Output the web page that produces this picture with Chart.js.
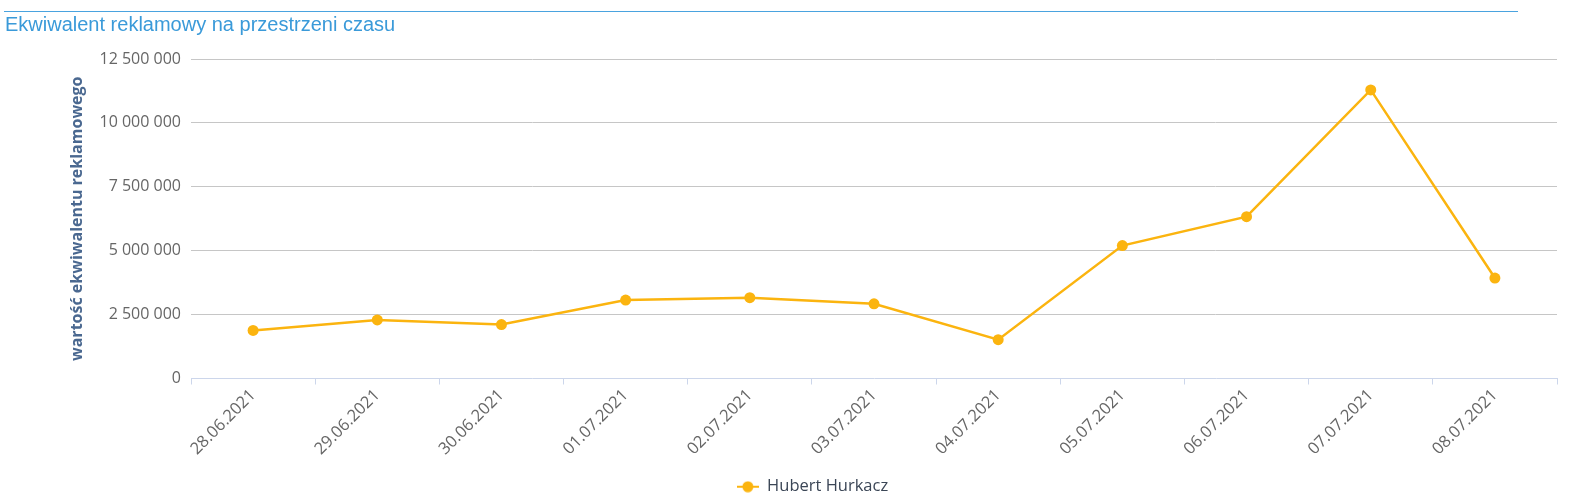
<!DOCTYPE html>
<html>
<head>
<meta charset="utf-8">
<script src="https://cdn.jsdelivr.net/npm/chart.js@4.4.0/dist/chart.umd.min.js"></script>
<style>
  html, body { margin: 0; padding: 0; background: #ffffff; overflow: hidden; }
  #wrap { position: relative; width: 1592px; height: 498px; overflow: hidden; }
  #topline { position: absolute; left: 4px; top: 11px; width: 1514px; height: 0; border-top: 1px solid #4aa3df; }
  #title { position: absolute; left: 5px; top: 13px; font-family: "Liberation Sans", Arial, sans-serif; font-size: 20px; line-height: 23px; color: #3a9ad9; white-space: nowrap; }
  #chartBox { position: absolute; left: 0; top: 0; width: 1592px; height: 505px; }
</style>
</head>
<body>
<div id="wrap">
  <div id="chartBox"><canvas id="c" width="1592" height="505"></canvas></div>
  <div id="topline"></div>
  <div id="title">Ekwiwalent reklamowy na przestrzeni czasu</div>
</div>
<script>
const categories = ["28.06.2021","29.06.2021","30.06.2021","01.07.2021","02.07.2021","03.07.2021","04.07.2021","05.07.2021","06.07.2021","07.07.2021","08.07.2021"];
const seriesName = "Hubert Hurkacz";
const seriesValues = [1880000, 2290000, 2110000, 3070000, 3160000, 2920000, 1520000, 5200000, 6330000, 11290000, 3930000];
const yTicks = [0, 2500000, 5000000, 7500000, 10000000, 12500000];
const yAxisTitle = "wartość ekwiwalentu reklamowego";

const lineColor = "#fbb40f";

function fmt(v) {
  return String(v).replace(/\B(?=(\d{3})+(?!\d))/g, " ");
}

// legend marker: line with a circle
const marker = document.createElement("canvas");
marker.width = 22; marker.height = 12;
(function () {
  const m = marker.getContext("2d");
  m.strokeStyle = lineColor; m.lineWidth = 2;
  m.beginPath(); m.moveTo(0, 6); m.lineTo(22, 6); m.stroke();
  m.fillStyle = lineColor;
  m.beginPath(); m.arc(11, 6, 5.5, 0, Math.PI * 2); m.fill();
})();

// shift the legend horizontally to match the reference placement
const legendShift = {
  id: "legendShift",
  afterLayout: function (chart) {
    if (chart.legend) {
      chart.legend.left += 34;
      chart.legend.right += 34;
    }
  }
};

new Chart(document.getElementById("c"), {
  type: "line",
  data: {
    labels: categories,
    datasets: [{
      label: seriesName,
      data: seriesValues,
      borderColor: lineColor,
      backgroundColor: lineColor,
      borderWidth: 2.5,
      pointRadius: 5.5,
      pointHoverRadius: 5.5,
      pointBackgroundColor: lineColor,
      pointBorderWidth: 0,
      pointStyle: "circle",
      tension: 0,
      fill: false
    }]
  },
  plugins: [legendShift],
  options: {
    responsive: false,
    animation: false,
    layout: { padding: { top: 59, left: 0, right: 35, bottom: 0 } },
    plugins: {
      title: { display: false },
      tooltip: { enabled: false },
      legend: {
        display: true,
        position: "bottom",
        labels: {
          usePointStyle: true,
          pointStyleWidth: 22,
          padding: 1,
          color: "#3b4656",
          font: { family: "'Open Sans', sans-serif", size: 16.5 },
          generateLabels: function (chart) {
            return chart.data.datasets.map(function (ds, i) {
              return {
                text: ds.label,
                pointStyle: marker,
                fillStyle: lineColor,
                strokeStyle: lineColor,
                lineWidth: 0,
                hidden: false,
                datasetIndex: i,
                fontColor: "#3b4656"
              };
            });
          }
        }
      }
    },
    scales: {
      x: {
        type: "category",
        offset: true,
        grid: {
          offset: true,
          drawOnChartArea: false,
          drawTicks: true,
          tickLength: 6,
          color: "#ccd6eb"
        },
        border: { display: true, color: "#ccd6eb", width: 1 },
        ticks: {
          autoSkip: false,
          maxRotation: 45,
          minRotation: 45,
          padding: 1,
          color: "#666666",
          font: { family: "'Open Sans', sans-serif", size: 16.5 }
        },
        afterFit: function (scale) { scale.height = 99; }
      },
      y: {
        min: 0,
        max: 12500000,
        afterBuildTicks: function (scale) {
          scale.ticks = yTicks.map(function (v) { return { value: v }; });
        },
        grid: {
          color: function (ctx) { return ctx.tick && ctx.tick.value === 0 ? "rgba(0,0,0,0)" : "#c6c6c6"; },
          drawTicks: false,
          lineWidth: 1
        },
        border: { display: false },
        ticks: {
          padding: 10,
          color: "#666666",
          font: { family: "'Open Sans', sans-serif", size: 16 },
          callback: function (v) { return fmt(v); }
        },
        title: {
          display: true,
          text: yAxisTitle,
          color: "#4a6890",
          font: { family: "'Open Sans', sans-serif", size: 16, weight: "bold" },
          padding: { top: 68, bottom: 0 }
        },
        afterFit: function (scale) { scale.width = 191; }
      }
    }
  }
});
</script>
</body>
</html>
